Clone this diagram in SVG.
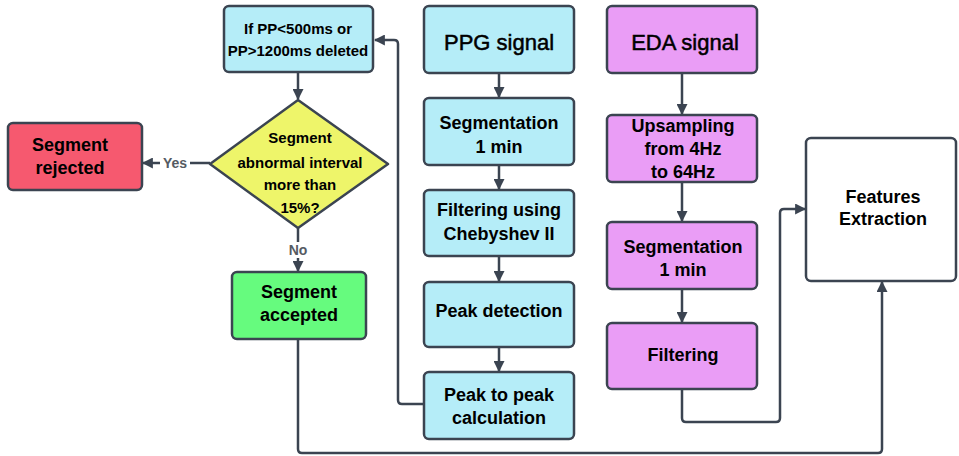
<svg xmlns="http://www.w3.org/2000/svg" width="959" height="456" viewBox="0 0 959 456">
  <style>
    .box { stroke: #3b4451; stroke-width: 2.5; }
    .ppg { fill: #b5edf8; }
    .eda { fill: #ea9df6; }
    .rej { fill: #f6596f; }
    .acc { fill: #66fb7e; }
    .dec { fill: #eef56a; }
    .out { fill: #ffffff; }
    .t { font-family: "Liberation Sans", Arial, sans-serif; font-weight: bold; fill: #000; text-anchor: middle; }
    .big { font-size: 22px; font-weight: normal; stroke: #000; stroke-width: 0.5; }
    .m { font-size: 18px; }
    .s { font-size: 15px; }
    .lbl { font-family: "Liberation Sans", Arial, sans-serif; font-weight: bold; font-size: 14px; fill: #555b63; text-anchor: middle; }
    .c { fill: none; stroke: #3b4451; stroke-width: 2.5; }
  </style>
  <defs>
    <marker id="ah" viewBox="0 0 10 10" refX="9" refY="5" markerWidth="11" markerHeight="11" markerUnits="userSpaceOnUse" orient="auto">
      <path d="M0 0 L10 5 L0 10 Z" fill="#3b4451"/>
    </marker>
  </defs>
  <rect width="959" height="456" fill="#ffffff"/>

  <!-- connectors -->
  <g id="connectors">
    <path class="c" d="M499 73 V97" marker-end="url(#ah)"/>
    <path class="c" d="M499 165 V189" marker-end="url(#ah)"/>
    <path class="c" d="M499 256 V281" marker-end="url(#ah)"/>
    <path class="c" d="M499 347 V371" marker-end="url(#ah)"/>
    <path class="c" d="M424 404 H402 Q398 404 398 400 V44 Q398 40 394 40 H375" marker-end="url(#ah)"/>
    <path class="c" d="M298 72 V99" marker-end="url(#ah)"/>
    <path class="c" d="M210 163 H143" marker-end="url(#ah)"/>
    <path class="c" d="M298 228 V271" marker-end="url(#ah)"/>
    <path class="c" d="M298 339 V449 Q298 453 302 453 H878 Q882 453 882 449 V282" marker-end="url(#ah)"/>
    <path class="c" d="M682 73 V114" marker-end="url(#ah)"/>
    <path class="c" d="M682 182 V221" marker-end="url(#ah)"/>
    <path class="c" d="M682 289 V322" marker-end="url(#ah)"/>
    <path class="c" d="M682 389 V418 Q682 422 686 422 H776 Q780 422 780 418 V213 Q780 209 784 209 H805" marker-end="url(#ah)"/>
    <rect x="160" y="155" width="30" height="16" fill="#ffffff"/>
    <text class="lbl" x="175" y="168">Yes</text>
    <rect x="285" y="242" width="26" height="16" fill="#ffffff"/>
    <text class="lbl" x="298" y="255">No</text>
  </g>

  <!-- PPG branch -->
  <g id="ppg-signal">
    <rect class="box ppg" x="424" y="6" width="150" height="67" rx="5"/>
    <text class="t big" x="499" y="50">PPG signal</text>
  </g>
  <g id="ppg-segmentation">
    <rect class="box ppg" x="424" y="98" width="150" height="67" rx="5"/>
    <text class="t m" x="499" y="129">Segmentation</text>
    <text class="t m" x="499" y="153">1 min</text>
  </g>
  <g id="ppg-filtering">
    <rect class="box ppg" x="424" y="190" width="150" height="66" rx="5"/>
    <text class="t m" x="499" y="216">Filtering using</text>
    <text class="t m" x="499" y="240">Chebyshev II</text>
  </g>
  <g id="peak-detection">
    <rect class="box ppg" x="424" y="282" width="150" height="65" rx="5"/>
    <text class="t m" x="499" y="317">Peak detection</text>
  </g>
  <g id="peak-to-peak">
    <rect class="box ppg" x="424" y="372" width="150" height="67" rx="5"/>
    <text class="t m" x="499" y="401">Peak to peak</text>
    <text class="t m" x="499" y="424">calculation</text>
  </g>
  <g id="pp-filter">
    <rect class="box ppg" x="224" y="6" width="149" height="66" rx="5"/>
    <text class="t s" x="298" y="34">If PP&lt;500ms or</text>
    <text class="t s" x="298" y="56">PP&gt;1200ms deleted</text>
  </g>
  <g id="abnormal-check">
    <polygon class="box dec" points="298,100 388,164 298,228 210,164" stroke-linejoin="round"/>
    <text class="t s" x="300" y="143">Segment</text>
    <text class="t s" x="300" y="168">abnormal interval</text>
    <text class="t s" x="300" y="190">more than</text>
    <text class="t s" x="300" y="213">15%?</text>
  </g>
  <g id="segment-rejected">
    <rect class="box rej" x="8" y="123" width="134" height="67" rx="5"/>
    <text class="t m" x="70" y="151">Segment</text>
    <text class="t m" x="70" y="174">rejected</text>
  </g>
  <g id="segment-accepted">
    <rect class="box acc" x="232" y="272" width="134" height="67" rx="5"/>
    <text class="t m" x="299" y="298">Segment</text>
    <text class="t m" x="299" y="321">accepted</text>
  </g>

  <!-- EDA branch -->
  <g id="eda-signal">
    <rect class="box eda" x="607" y="6" width="150" height="67" rx="5"/>
    <text class="t big" x="685" y="50">EDA signal</text>
  </g>
  <g id="eda-upsampling">
    <rect class="box eda" x="607" y="115" width="150" height="67" rx="5"/>
    <text class="t m" x="683" y="132">Upsampling</text>
    <text class="t m" x="683" y="155">from 4Hz</text>
    <text class="t m" x="683" y="178">to 64Hz</text>
  </g>
  <g id="eda-segmentation">
    <rect class="box eda" x="607" y="222" width="150" height="67" rx="5"/>
    <text class="t m" x="683" y="253">Segmentation</text>
    <text class="t m" x="683" y="276">1 min</text>
  </g>
  <g id="eda-filtering">
    <rect class="box eda" x="607" y="323" width="150" height="66" rx="5"/>
    <text class="t m" x="683" y="361">Filtering</text>
  </g>

  <g id="features-extraction">
    <rect class="box out" x="806" y="138" width="150" height="143" rx="5"/>
    <text class="t m" x="883" y="203">Features</text>
    <text class="t m" x="883" y="225">Extraction</text>
  </g>
</svg>
